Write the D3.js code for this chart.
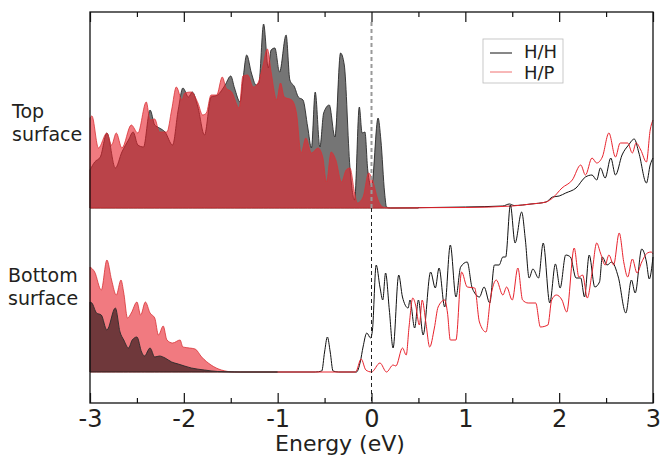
<!DOCTYPE html>
<html lang="en">
<head>
<meta charset="UTF-8" />
<title>Surface DOS</title>
<script src="https://d3js.org/d3.v7.min.js"></script>
<style>
  body { margin: 0; background: #fff; }
  svg text { font-family: "DejaVu Sans", sans-serif; fill: #231f20; }
</style>
</head>
<body>
<script>
// energy ticks
const majorTicks = [-3, -2, -1, 0, 1, 2, 3];
const minorTicks = [-2.5, -1.5, -0.5, 0.5, 1.5, 2.5];
const seriesNames = ['H/H', 'H/P'];

// top surface, [energy (eV), DOS arb. units]
const topHH = [
  [-3.00, 38], [-2.95, 46], [-2.89, 51], [-2.82, 75], [-2.73, 40], [-2.66, 56], [-2.59, 68],
  [-2.54, 76], [-2.49, 63], [-2.43, 61], [-2.36, 98], [-2.31, 83], [-2.26, 80], [-2.20, 76],
  [-2.12, 63], [-2.06, 98], [-2.01, 120], [-1.95, 111], [-1.91, 116], [-1.85, 101], [-1.78, 73],
  [-1.71, 111], [-1.64, 113], [-1.56, 123], [-1.50, 132], [-1.46, 120], [-1.40, 106], [-1.37, 128],
  [-1.33, 153], [-1.28, 135], [-1.23, 123], [-1.20, 125], [-1.15, 184], [-1.10, 140], [-1.07, 158],
  [-1.03, 160], [-0.98, 136], [-0.91, 173], [-0.87, 128], [-0.82, 121], [-0.78, 111], [-0.73, 108],
  [-0.68, 81], [-0.64, 60], [-0.60, 116], [-0.55, 61], [-0.51, 95], [-0.45, 103], [-0.39, 71],
  [-0.33, 155], [-0.29, 143], [-0.23, 41], [-0.18, 8], [-0.13, 101], [-0.10, 75], [-0.07, 76],
  [-0.04, 38], [0.00, 21], [0.07, 90], [0.10, 68], [0.14, 15], [0.16, 1], [0.20, 0], [0.50, 0.3],
  [1.00, 1], [1.40, 2], [1.47, 4], [1.52, 2.5], [1.70, 4], [1.86, 6], [1.93, 11], [2.00, 12],
  [2.07, 15], [2.18, 20], [2.28, 31], [2.35, 33], [2.40, 28], [2.44, 40], [2.49, 30], [2.55, 50],
  [2.60, 33], [2.67, 53], [2.74, 63], [2.80, 69], [2.85, 55], [2.93, 25], [2.97, 43], [3.00, 50]
];
const topHP = [
  [-3.00, 90], [-2.98, 92], [-2.91, 60], [-2.82, 75], [-2.77, 63], [-2.72, 75], [-2.66, 60],
  [-2.56, 83], [-2.49, 75], [-2.40, 106], [-2.36, 88], [-2.31, 89], [-2.26, 76], [-2.18, 76],
  [-2.13, 98], [-2.08, 121], [-2.02, 108], [-1.99, 115], [-1.92, 116], [-1.85, 105], [-1.80, 93],
  [-1.76, 95], [-1.71, 113], [-1.65, 113], [-1.59, 131], [-1.55, 120], [-1.49, 116], [-1.41, 100],
  [-1.37, 132], [-1.32, 133], [-1.26, 121], [-1.21, 125], [-1.16, 141], [-1.11, 159], [-1.07, 136],
  [-1.01, 108], [-0.97, 125], [-0.93, 111], [-0.85, 108], [-0.80, 95], [-0.75, 55], [-0.70, 70],
  [-0.64, 55], [-0.57, 60], [-0.52, 51], [-0.48, 26], [-0.43, 56], [-0.38, 48], [-0.32, 26],
  [-0.27, 38], [-0.23, 40], [-0.18, 15], [-0.15, 5], [-0.09, 11], [-0.03, 35], [0.01, 28],
  [0.07, 8], [0.12, 1], [0.20, 0], [0.50, 0.3], [1.00, 0.5], [1.50, 2], [1.70, 4], [1.86, 6],
  [1.93, 10], [2.03, 20], [2.14, 28], [2.23, 43], [2.28, 33], [2.35, 50], [2.40, 45], [2.46, 51],
  [2.53, 75], [2.60, 51], [2.65, 65], [2.73, 65], [2.78, 55], [2.82, 65], [2.87, 58], [2.93, 46],
  [2.97, 78], [3.00, 88]
];

// bottom surface
const botHH = [
  [-3.00, 70], [-2.98, 69], [-2.93, 59], [-2.88, 57], [-2.82, 42], [-2.73, 64], [-2.68, 40],
  [-2.64, 32], [-2.59, 24], [-2.55, 32], [-2.50, 35], [-2.45, 20], [-2.42, 16], [-2.36, 24],
  [-2.31, 15], [-2.26, 16], [-2.20, 14], [-2.13, 10], [-2.06, 8], [-1.92, 4], [-1.78, 2],
  [-1.64, 0.5], [-1.40, 0], [-1.00, 0], [-0.60, 0], [-0.53, 1], [-0.50, 20], [-0.47, 35],
  [-0.44, 20], [-0.41, 1], [-0.35, 0], [-0.16, 0], [-0.12, 10], [-0.09, 25], [-0.05, 39],
  [-0.01, 34], [0.01, 42], [0.05, 107], [0.09, 85], [0.12, 72], [0.15, 99], [0.19, 62],
  [0.23, 24], [0.29, 97], [0.33, 75], [0.39, 64], [0.41, 72], [0.46, 44], [0.50, 72], [0.55, 37],
  [0.63, 100], [0.68, 84], [0.72, 104], [0.78, 65], [0.84, 127], [0.90, 75], [0.95, 105],
  [1.02, 110], [1.07, 85], [1.10, 79], [1.15, 75], [1.20, 85], [1.26, 69], [1.31, 107],
  [1.36, 107], [1.40, 115], [1.43, 115], [1.48, 167], [1.53, 129], [1.60, 160], [1.64, 132],
  [1.68, 94], [1.72, 103], [1.78, 94], [1.83, 129], [1.90, 69], [1.96, 108], [2.01, 84],
  [2.07, 117], [2.12, 115], [2.18, 94], [2.23, 94], [2.27, 75], [2.32, 117], [2.38, 85],
  [2.43, 90], [2.46, 115], [2.51, 107], [2.56, 110], [2.63, 95], [2.71, 59], [2.77, 92],
  [2.81, 79], [2.88, 123], [2.93, 110], [2.96, 93], [3.00, 115]
];
const botHP = [
  [-3.00, 105], [-2.95, 100], [-2.88, 82], [-2.82, 112], [-2.77, 92], [-2.72, 77], [-2.67, 92],
  [-2.64, 79], [-2.60, 54], [-2.56, 59], [-2.50, 70], [-2.46, 57], [-2.41, 70], [-2.36, 59],
  [-2.31, 54], [-2.27, 37], [-2.22, 46], [-2.18, 32], [-2.12, 29], [-2.04, 32], [-2.01, 25],
  [-1.94, 24], [-1.88, 23], [-1.81, 15], [-1.71, 7], [-1.60, 2], [-1.46, 0], [-1.00, 0],
  [-0.60, 0], [-0.17, 0], [-0.11, 13], [-0.06, 2], [0.00, 0], [0.09, 9], [0.16, 0], [0.23, 7],
  [0.26, 6], [0.33, 24], [0.37, 17], [0.40, 45], [0.44, 74], [0.47, 67], [0.51, 47], [0.54, 72],
  [0.58, 49], [0.62, 25], [0.67, 44], [0.71, 65], [0.78, 72], [0.81, 59], [0.84, 32], [0.90, 32],
  [0.96, 100], [1.02, 85], [1.10, 84], [1.15, 50], [1.22, 40], [1.27, 75], [1.33, 92], [1.40, 77],
  [1.44, 85], [1.50, 72], [1.56, 104], [1.61, 72], [1.67, 69], [1.75, 69], [1.80, 45], [1.88, 47],
  [1.92, 72], [1.97, 77], [2.03, 72], [2.08, 60], [2.16, 124], [2.21, 95], [2.25, 97], [2.30, 74],
  [2.35, 99], [2.40, 129], [2.44, 119], [2.49, 107], [2.53, 117], [2.58, 107], [2.64, 139],
  [2.69, 109], [2.73, 95], [2.78, 113], [2.83, 99], [2.88, 110], [2.94, 119], [2.98, 120], [3.00, 118]
];

const width = 664, height = 457;
const frameLeft = 90, frameRight = 653, frameTop = 12, frameBottom = 403;

const svg = d3.select('body').append('svg').attr('width', width).attr('height', height);

const x = d3.scaleLinear().domain([-3, 3]).range([frameLeft, frameRight]);
// two stacked panels, same DOS scale
const yTop = d3.scaleLinear().domain([0, 196]).range([208, 12]);
const yBot = d3.scaleLinear().domain([0, 196]).range([372, 176]);

const red = '#e8222c';

function drawPanel(y, hh, hp, fillEnd, redFirst) {
  const g = svg.append('g');
  const inFill = d => d[0] <= fillEnd;
  const inLine = d => d[0] >= fillEnd;
  const area = d3.area().x(d => x(d[0])).y0(y(0)).y1(d => y(d[1])).curve(d3.curveMonotoneX);
  const line = d3.line().x(d => x(d[0])).y(d => y(d[1])).curve(d3.curveMonotoneX);

  const drawHH = () => g.append('path').datum(hh.filter(inFill)).attr('d', area)
    .attr('fill', 'rgba(0,0,0,0.54)').attr('stroke', '#2a2a2a').attr('stroke-width', 0.9);
  const drawHP = () => g.append('path').datum(hp.filter(inFill)).attr('d', area)
    .attr('fill', 'rgba(232,34,44,0.6)').attr('stroke', '#d83236').attr('stroke-width', 0.8);
  if (redFirst) { drawHP(); drawHH(); } else { drawHH(); drawHP(); }

  g.append('path').datum(hh.filter(inLine)).attr('d', line)
    .attr('fill', 'none').attr('stroke', '#111').attr('stroke-width', 1);
  g.append('path').datum(hp.filter(inLine)).attr('d', line)
    .attr('fill', 'none').attr('stroke', red).attr('stroke-width', 1);
}

drawPanel(yTop, topHH, topHP, 0.5, false);
drawPanel(yBot, botHH, botHP, -1.0, true);

// fermi level
svg.append('line').attr('x1', x(0)).attr('x2', x(0)).attr('y1', frameTop + 10).attr('y2', yTop(0))
  .attr('stroke', '#999').attr('stroke-width', 2).attr('stroke-dasharray', '4,3');
svg.append('line').attr('x1', x(0)).attr('x2', x(0)).attr('y1', yTop(0)).attr('y2', frameBottom)
  .attr('stroke', '#222').attr('stroke-width', 1).attr('stroke-dasharray', '4,3');

// frame
svg.append('rect').attr('x', frameLeft).attr('y', frameTop)
  .attr('width', frameRight - frameLeft).attr('height', frameBottom - frameTop)
  .attr('fill', 'none').attr('stroke', '#111').attr('stroke-width', 1.3);

// axes (ticks point inward)
const xAxis = svg.append('g').attr('transform', `translate(0,${frameBottom})`)
  .call(d3.axisBottom(x).tickValues(majorTicks).tickSize(-10).tickPadding(7).tickFormat(d => String(d)));
xAxis.select('.domain').remove();
xAxis.selectAll('text').attr('font-size', 24).attr('font-family', 'DejaVu Sans').attr('fill', '#231f20');
const xMinor = svg.append('g').attr('transform', `translate(0,${frameBottom})`)
  .call(d3.axisBottom(x).tickValues(minorTicks).tickSize(-5).tickFormat(''));
xMinor.select('.domain').remove();
const tAxis = svg.append('g').attr('transform', `translate(0,${frameTop})`)
  .call(d3.axisTop(x).tickValues(majorTicks).tickSize(-10).tickFormat(''));
tAxis.select('.domain').remove();
const tMinor = svg.append('g').attr('transform', `translate(0,${frameTop})`)
  .call(d3.axisTop(x).tickValues(minorTicks).tickSize(-5).tickFormat(''));
tMinor.select('.domain').remove();
svg.selectAll('.tick line').attr('stroke', '#111').attr('stroke-width', 1.2);

svg.append('text').attr('x', 340).attr('y', 451).attr('text-anchor', 'middle')
  .attr('font-size', 22).text('Energy (eV)');

// panel labels
const panelLabels = [
  { lines: ['Top', 'surface'], x: 12, y: 118 },
  { lines: ['Bottom', 'surface'], x: 8, y: 282 }
];
panelLabels.forEach(p => {
  p.lines.forEach((t, i) => {
    svg.append('text').attr('x', p.x).attr('y', p.y + i * 23).attr('font-size', 19).text(t);
  });
});

// legend
const legend = svg.append('g');
legend.append('rect').attr('x', 483).attr('y', 39).attr('width', 80).attr('height', 44)
  .attr('fill', '#fff').attr('stroke', '#bbb').attr('stroke-width', 0.8);
[['#111', 53, 58], ['#f07070', 72, 79]].forEach((s, i) => {
  legend.append('line').attr('x1', 490).attr('x2', 512).attr('y1', s[1]).attr('y2', s[1])
    .attr('stroke', s[0]).attr('stroke-width', 1);
  legend.append('text').attr('x', 524).attr('y', s[2]).attr('font-size', 18).text(seriesNames[i]);
});
</script>
</body>
</html>
